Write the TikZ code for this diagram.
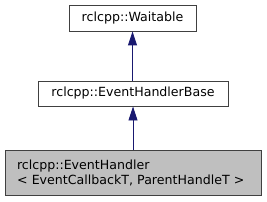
\documentclass[tikz,border=0pt]{standalone}
\usepackage{fontspec}
\setmainfont{DejaVu Sans}
\usetikzlibrary{arrows.meta}
\definecolor{dborder}{HTML}{404040}
\definecolor{dfill}{HTML}{BFBFBF}
\definecolor{dnavy}{HTML}{191970}
\tikzset{
  cls/.style={rectangle, draw=dborder, fill=white, line width=0.9pt, inner sep=0pt,
              font=\fontsize{12.6}{15}\selectfont, text=black},
  current/.style={fill=dfill},
  inherit/.style={-{Triangle[length=14pt, width=9pt]}, draw=dnavy, fill=dnavy, line width=0.9pt}
}
\begin{document}
\begin{tikzpicture}[x=1pt, y=1pt]
  \useasboundingbox (0,0) rectangle (267,201);
  \node[cls, minimum width=127pt, minimum height=26pt] (waitable) at (132.5,183) {rclcpp::Waitable};
  \node[cls, minimum width=190pt, minimum height=25pt] (base) at (133,107.5) {rclcpp::EventHandlerBase};
  \node[cls, current, minimum width=256pt, minimum height=45pt, text width=232pt,
        inner xsep=12pt, align=left] (handler) at (133,28.5)
        {rclcpp::EventHandler\\\textless{} EventCallbackT, ParentHandleT \textgreater};

  \draw[inherit] (base.north -| waitable.south) -- (waitable.south);
  \draw[inherit] (handler.north -| base.south) -- (base.south);
\end{tikzpicture}
\end{document}
